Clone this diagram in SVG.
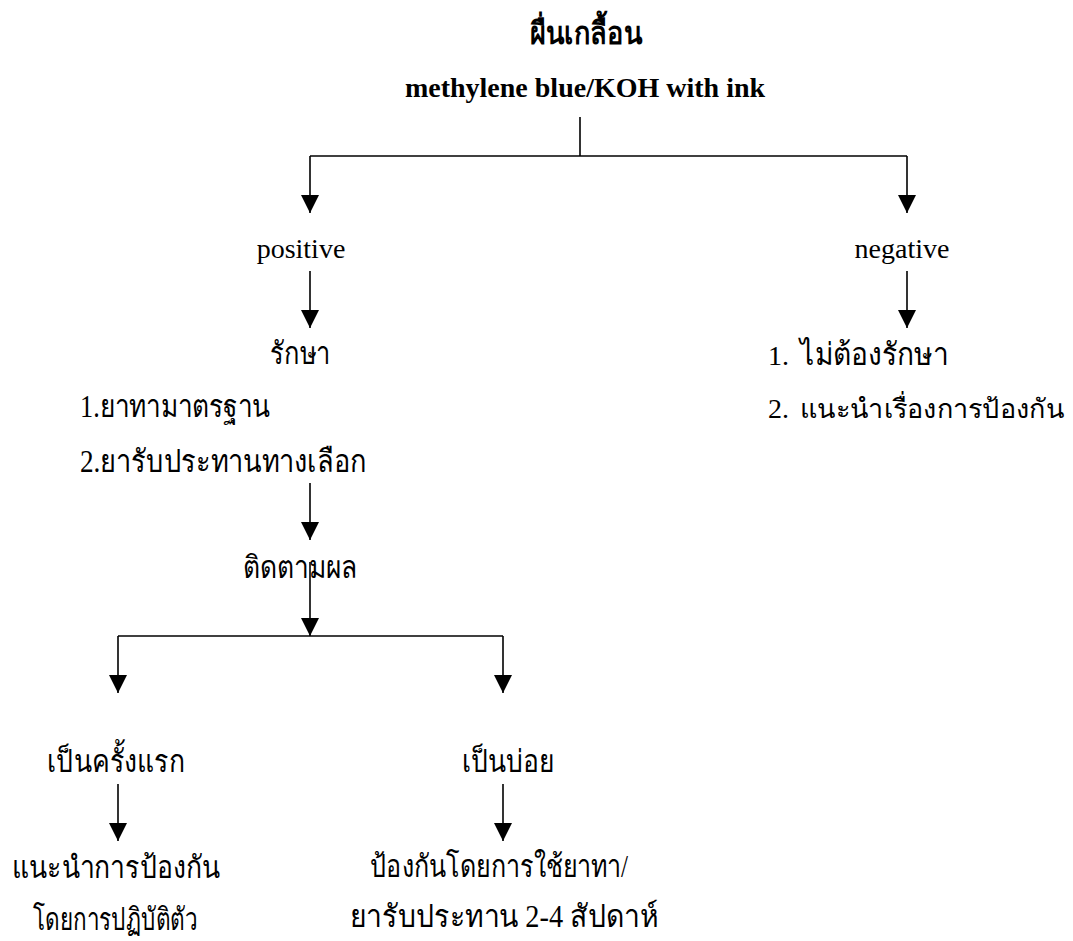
<svg xmlns="http://www.w3.org/2000/svg" width="1073" height="941" viewBox="0 0 1073 941">
<style>
text{font-family:"Liberation Serif",serif;font-size:28px;fill:#000}
.b{font-weight:bold}
.th{font-size:31px}
.c{text-anchor:middle}
.ln{stroke:#000;stroke-width:1.6;fill:none}
.ar{marker-end:url(#ah)}
</style>
<defs>
<marker id="ah" markerUnits="userSpaceOnUse" markerWidth="18" markerHeight="18" viewBox="0 0 16 16" refX="16" refY="8" orient="auto">
<path d="M0,0 L16,8 L0,16 Z" fill="#000"/>
</marker>
</defs>
<rect width="1073" height="941" fill="#fff"/>
<g id="connectors">
<line class="ln" x1="580" y1="117" x2="580" y2="156"/>
<line class="ln" x1="310" y1="156" x2="907" y2="156"/>
<line class="ln ar" x1="310" y1="156" x2="310" y2="213"/>
<line class="ln ar" x1="907" y1="156" x2="907" y2="213"/>
<line class="ln ar" x1="310" y1="271" x2="310" y2="328"/>
<line class="ln ar" x1="907" y1="271" x2="907" y2="328"/>
<line class="ln ar" x1="310" y1="483" x2="310" y2="540"/>
<line class="ln ar" x1="310" y1="562" x2="310" y2="636"/>
<line class="ln" x1="118" y1="636" x2="503" y2="636"/>
<line class="ln ar" x1="118" y1="636" x2="118" y2="693"/>
<line class="ln ar" x1="503" y1="636" x2="503" y2="693"/>
<line class="ln ar" x1="118" y1="784" x2="118" y2="841"/>
<line class="ln ar" x1="503" y1="784" x2="503" y2="841"/>
</g>
<g id="n-title"><text class="b th c" x="586" y="44" textLength="112" lengthAdjust="spacingAndGlyphs">ผื่นเกลื้อน</text></g>
<g id="n-test"><text class="b c" x="585" y="97">methylene blue/KOH with ink</text></g>
<g id="n-positive"><text class="c" x="301" y="258">positive</text></g>
<g id="n-negative"><text class="c" x="902" y="258">negative</text></g>
<g id="n-treat">
<text class="th c" x="300" y="364" textLength="60" lengthAdjust="spacingAndGlyphs">รักษา</text>
<text class="th" x="80" y="417" textLength="190" lengthAdjust="spacingAndGlyphs">1.ยาทามาตรฐาน</text>
<text class="th" x="80" y="472" textLength="287" lengthAdjust="spacingAndGlyphs">2.ยารับประทานทางเลือก</text>
</g>
<g id="n-notreat">
<text x="768" y="365">1.</text><text class="th" x="800" y="365" textLength="148" lengthAdjust="spacingAndGlyphs">ไม่ต้องรักษา</text>
<text x="768" y="418">2.</text><text x="800" y="418" style="font-size:26.5px" textLength="264" lengthAdjust="spacingAndGlyphs">แนะนำเรื่องการป้องกัน</text>
</g>
<g id="n-follow"><text class="th c" x="300" y="578" textLength="114" lengthAdjust="spacingAndGlyphs">ติดตามผล</text></g>
<g id="n-first"><text class="th c" x="116" y="772" textLength="138" lengthAdjust="spacingAndGlyphs">เป็นครั้งแรก</text></g>
<g id="n-recur"><text class="th c" x="508" y="772" textLength="93" lengthAdjust="spacingAndGlyphs">เป็นบ่อย</text></g>
<g id="n-advice">
<text class="th c" x="116" y="878" textLength="208" lengthAdjust="spacingAndGlyphs">แนะนำการป้องกัน</text>
<text class="th c" x="115" y="930" textLength="164" lengthAdjust="spacingAndGlyphs">โดยการปฏิบัติตัว</text>
</g>
<g id="n-prevent">
<text class="th c" x="499" y="877" textLength="258" lengthAdjust="spacingAndGlyphs">ป้องกันโดยการใช้ยาทา/</text>
<text class="th c" x="504" y="927" textLength="308" lengthAdjust="spacingAndGlyphs">ยารับประทาน 2-4 สัปดาห์</text>
</g>
</svg>
